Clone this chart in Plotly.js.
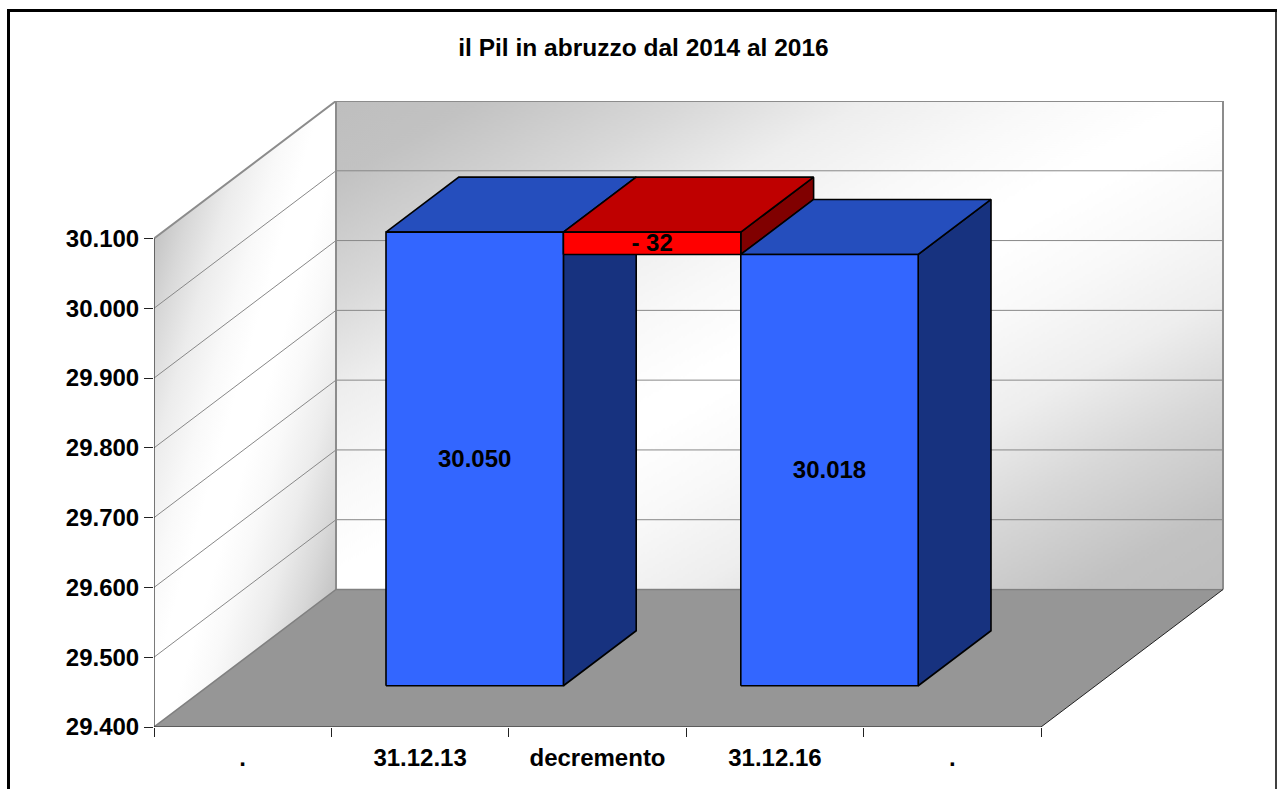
<!DOCTYPE html>
<html>
<head>
<meta charset="utf-8">
<script src="https://cdn.plot.ly/plotly-3.0.1.min.js"></script>
<style>html,body{margin:0;padding:0;background:#fff;overflow:hidden}#chart{width:1277px;height:789px}</style>
</head>
<body>
<div id="chart"></div>
<script>
// ---- data ----
const chartTitle = "il Pil in abruzzo dal 2014 al 2016";
const categories = [".", "31.12.13", "decremento", "31.12.16", "."];
const barCategoryIndex = [1, 2, 3];
const barLow  = [29400, 30018, 29400];
const barHigh = [30050, 30050, 30018];
const barLabels = ["30.050", "- 32", "30.018"];
const frontColors = ["#3366FF", "#FF0000", "#3366FF"];
const topColors   = ["#254EBD", "#BF0000", "#254EBD"];
const sideColors  = ["#17327F", "#800000", "#17327F"];
const yTicks = [29400, 29500, 29600, 29700, 29800, 29900, 30000, 30100];
const backWallStops = [[0,"#BE"],[0.08,"#C2"],[0.2,"#D8"],[0.3,"#EE"],[0.4,"#F9"],[0.48,"#FF"],[0.52,"#FF"],[0.6,"#F9"],[0.7,"#EE"],[0.8,"#D8"],[0.92,"#C2"],[1,"#BE"]];
const sideWallStops = [[0,"#C4"],[0.1,"#D8"],[0.22,"#EC"],[0.35,"#F9"],[0.45,"#FF"],[0.55,"#FF"],[0.65,"#F9"],[0.78,"#EC"],[0.9,"#D8"],[1,"#C4"]];

// ---- oblique projection, expressed in axis units ----
const W = 1277, H = 789;
const L = 154, T = 101, R = 1224, B = 727;
const pxPerCat = 177.4, pxPerUnit = 488.5 / 700;
const depthPxX = 182, depthPxY = 137.5;
const depthX = depthPxX / pxPerCat, depthY = depthPxY / pxPerUnit;
const yMin = yTicks[0], yMax = yTicks[yTicks.length - 1];
const xRange = [0, (R - L) / pxPerCat];
const yRange = [yMin, yMin + (B - T) / pxPerUnit];
const barDepthStart = 0.3, barDepthEnd = 0.7;
const labelNudge = 2 / pxPerUnit;
const px = (c, d) => c + d * depthX;
const py = (v, d) => v + d * depthY;
const FONT = "Liberation Sans, Arial, sans-serif";

function poly(points, fill, line, width) {
  return {type: "scatter", mode: "lines", x: points.map(p => px(p[0], p[1])), y: points.map(p => py(p[2], p[1])),
    fill: fill ? "toself" : "none", fillcolor: fill || undefined,
    line: {color: line, width: width}, cliponaxis: false, hoverinfo: "skip", showlegend: false};
}

const n = categories.length;
const traces = [];

// floor
traces.push(poly([[0,0,yMin],[n,0,yMin],[n,1,yMin],[0,1,yMin],[0,0,yMin]], "#969696", "rgba(0,0,0,0)", 0));

// grid lines on both walls
const gx = [], gy = [];
yTicks.slice(1, -1).forEach(v => {
  gx.push(px(0,0), px(0,1), px(n,1), null);
  gy.push(py(v,0), py(v,1), py(v,1), null);
});
traces.push({type:"scatter", mode:"lines", x:gx, y:gy, line:{color:"#888888", width:1}, cliponaxis:false, hoverinfo:"skip", showlegend:false});

// wall and floor edges
traces.push(poly([[0,0,yMax],[0,1,yMax],[n,1,yMax],[n,1,yMin]], null, "#8C8C8C", 2));
traces.push(poly([[0,1,yMax],[0,1,yMin]], null, "#8C8C8C", 2));
traces.push(poly([[0,0,yMin],[0,1,yMin],[n,1,yMin]], null, "#808080", 1.5));
traces.push(poly([[n,0,yMin],[n,1,yMin]], null, "#222222", 1));

// axis lines
traces.push(poly([[0,0,yMin],[0,0,yMax]], null, "#222222", 1.2));
traces.push(poly([[0,0,yMin],[n,0,yMin]], null, "#222222", 1.2));

// bars: side, top, front
barCategoryIndex.forEach((c, i) => {
  const a = barDepthStart, b = barDepthEnd, lo = barLow[i], hi = barHigh[i];
  traces.push(poly([[c+1,a,lo],[c+1,b,lo],[c+1,b,hi],[c+1,a,hi],[c+1,a,lo]], sideColors[i], "#000", 1.6));
  traces.push(poly([[c,a,hi],[c+1,a,hi],[c+1,b,hi],[c,b,hi],[c,a,hi]], topColors[i], "#000", 1.6));
  traces.push(poly([[c,a,lo],[c+1,a,lo],[c+1,a,hi],[c,a,hi],[c,a,lo]], frontColors[i], "#000", 1.6));
});

// bar labels
traces.push({type:"scatter", mode:"text",
  x: barCategoryIndex.map(c => px(c + 0.5, barDepthStart)),
  y: barCategoryIndex.map((c, i) => py((barLow[i] + barHigh[i]) / 2, barDepthStart) - labelNudge),
  text: barLabels, textposition:"middle center",
  textfont:{family:FONT, size:24, color:"#000", weight:700},
  cliponaxis:false, hoverinfo:"skip", showlegend:false});

// carrier for the category labels
traces.push({type:"scatter", mode:"markers", xaxis:"x2", yaxis:"y",
  x: categories.map((_, i) => i + 0.5), y: categories.map(() => yMin),
  marker:{opacity:0, size:1}, hoverinfo:"skip", showlegend:false});

// ---- wall shading ----
function wallImage(w, h, stops, a, b, c, d, e, f) {
  const cv = document.createElement("canvas");
  cv.width = Math.round(w); cv.height = Math.round(h);
  const ctx = cv.getContext("2d");
  ctx.setTransform(a, b, c, d, e, f);
  const g = ctx.createLinearGradient(0, 0, 1, 1);
  stops.forEach(s => g.addColorStop(s[0], "#" + s[1].slice(1).repeat(3)));
  ctx.fillStyle = g;
  ctx.fillRect(0, 0, 1, 1);
  return cv.toDataURL("image/png");
}
const wallH = pxPerUnit * (yMax - yMin);
const images = [
  {source: wallImage(888, wallH, backWallStops, 888, 0, 0, wallH, 0, 0),
   xref:"x", yref:"y", x: depthX, y: py(yMax,1), sizex: n, sizey: yMax - yMin,
   sizing:"stretch", xanchor:"left", yanchor:"top", layer:"below"},
  {source: wallImage(depthPxX, depthPxY + wallH, sideWallStops, depthPxX, -depthPxY, 0, wallH, 0, depthPxY),
   xref:"x", yref:"y", x: 0, y: py(yMax,1), sizex: depthX, sizey: yMax - yMin + depthY,
   sizing:"stretch", xanchor:"left", yanchor:"top", layer:"below"}
];

// ---- outer frame (page pixels converted to paper units) ----
const paperX = p => (p - L) / (R - L);
const paperY = p => (B - p) / (B - T);
const frameLine = (x0, y0, x1, y1, w) => ({type:"line", xref:"paper", yref:"paper",
  x0: paperX(x0), y0: paperY(y0), x1: paperX(x1), y1: paperY(y1), line:{color:"#000", width:w}});

const layout = {
  width: W, height: H, autosize: false,
  margin: {l: L, r: W - R, t: T, b: H - B, pad: 0},
  paper_bgcolor: "#fff", plot_bgcolor: "rgba(0,0,0,0)",
  separators: ",.", showlegend: false,
  title: {text: chartTitle, font:{family:FONT, size:24.5, color:"#000", weight:700},
          x: 643.5 / W, xanchor:"center", y: 1 - 47 / H, yanchor:"middle"},
  xaxis: {range: xRange, type:"linear", tickmode:"array",
          tickvals: categories.map((_, i) => i).concat(n), ticktext: categories.map(() => "").concat(""),
          ticks:"outside", ticklen:9, tickwidth:1, tickcolor:"#222",
          showgrid:false, zeroline:false, showline:false},
  xaxis2: {range: xRange, type:"linear", overlaying:"x", side:"bottom", anchor:"y", tickmode:"array",
          tickvals: categories.map((_, i) => i + 0.5), ticktext: categories,
          ticks:"", tickfont:{family:FONT, size:24, color:"#000", weight:700},
          ticklabelstandoff: 14, showgrid:false, zeroline:false, showline:false},
  yaxis: {range: yRange, type:"linear", tickmode:"array", tickvals: yTicks, tickformat:",",
          ticks:"outside", ticklen:9, tickwidth:1, tickcolor:"#222",
          tickfont:{family:FONT, size:24, color:"#000", weight:700},
          ticklabelstandoff: 0, showgrid:false, zeroline:false, showline:false},
  images: images,
  shapes: [
    frameLine(8.5, 10.5, 8.5, H, 3),
    frameLine(7, 10.5, W, 10.5, 3),
    frameLine(1276, 10, 1276, H, 1.5)
  ]
};
Plotly.newPlot("chart", traces, layout, {displayModeBar:false, staticPlot:true, responsive:false});
</script>
</body>
</html>
